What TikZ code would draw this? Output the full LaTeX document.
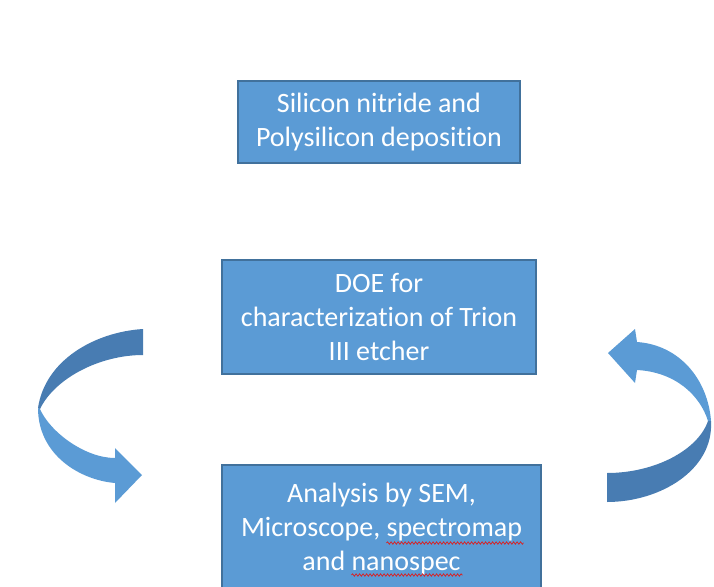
\documentclass[tikz,border=0pt]{standalone}
\usepackage{fontspec}
\setmainfont[Ligatures=NoCommon, RawFeature={-liga;-clig;-calt}]{Carlito}
\usetikzlibrary{decorations.pathmorphing}
\definecolor{boxfill}{HTML}{5B9BD5}
\definecolor{boxline}{HTML}{41719C}
\definecolor{bandback}{RGB}{72,124,178}
\definecolor{spellred}{RGB}{220,30,30}
\newcommand\tkn{t\kern0pt i}

\begin{document}
\begin{tikzpicture}[x=1pt, y=-1pt,
  stepbox/.style={draw=boxline, line width=1.2pt, fill=boxfill, text=white,
    align=center, inner sep=0pt, font=\fontsize{28}{34}\selectfont},
  spellmark/.style={spellred, line width=0.7pt, decorate,
    decoration={snake, amplitude=1.2pt, segment length=3.5pt}}]
\useasboundingbox (0,0) rectangle (714,586);

\node[stepbox, minimum width=282, minimum height=82] (dep) at (379,122)
  {Silicon nitride and\\Polysilicon deposi\tkn on};
\node[stepbox, minimum width=314, minimum height=114] (doe) at (379,317)
  {DOE for\\characteriza\tkn on of Trion\\III etcher};
\node[stepbox, minimum width=319, minimum height=128] (ana) at (381.5,529)
  {Analysis by SEM,\\Microscope, spectromap\\and nanospec};

% spelling marks under two words
\draw[spellmark] ([shift={(5,14)}]ana.center) -- ([shift={(142,14)}]ana.center);
\draw[spellmark] ([shift={(-30,46)}]ana.center) -- ([shift={(81,46)}]ana.center);

% left curved arrow (doe -> ana)
\begin{scope}
  \fill[bandback] (143,329) .. controls (95,332) and (45,360) .. (38,408)
     -- (40,409) .. controls (55,378) and (100,355) .. (143,355) -- cycle;
  \fill[boxfill] (38,408) .. controls (38,455) and (80,480) .. (115,483)
     -- (115,503) -- (142,475) -- (115,448) -- (115,458)
     .. controls (85,458) and (50,432) .. (40,409) -- cycle;
\end{scope}

% right curved arrow (ana -> doe)
\begin{scope}
  \fill[boxfill] (711,421) .. controls (708,380) and (680,345) .. (637,342)
     -- (635,329) -- (608,353) -- (635,383) -- (637,370)
     .. controls (675,372) and (700,395) .. (708,421) -- cycle;
  \fill[bandback] (711,421) .. controls (714,470) and (660,502) .. (607,502)
     -- (607,473) .. controls (655,473) and (698,450) .. (708,421) -- cycle;
\end{scope}
\end{tikzpicture}
\end{document}
